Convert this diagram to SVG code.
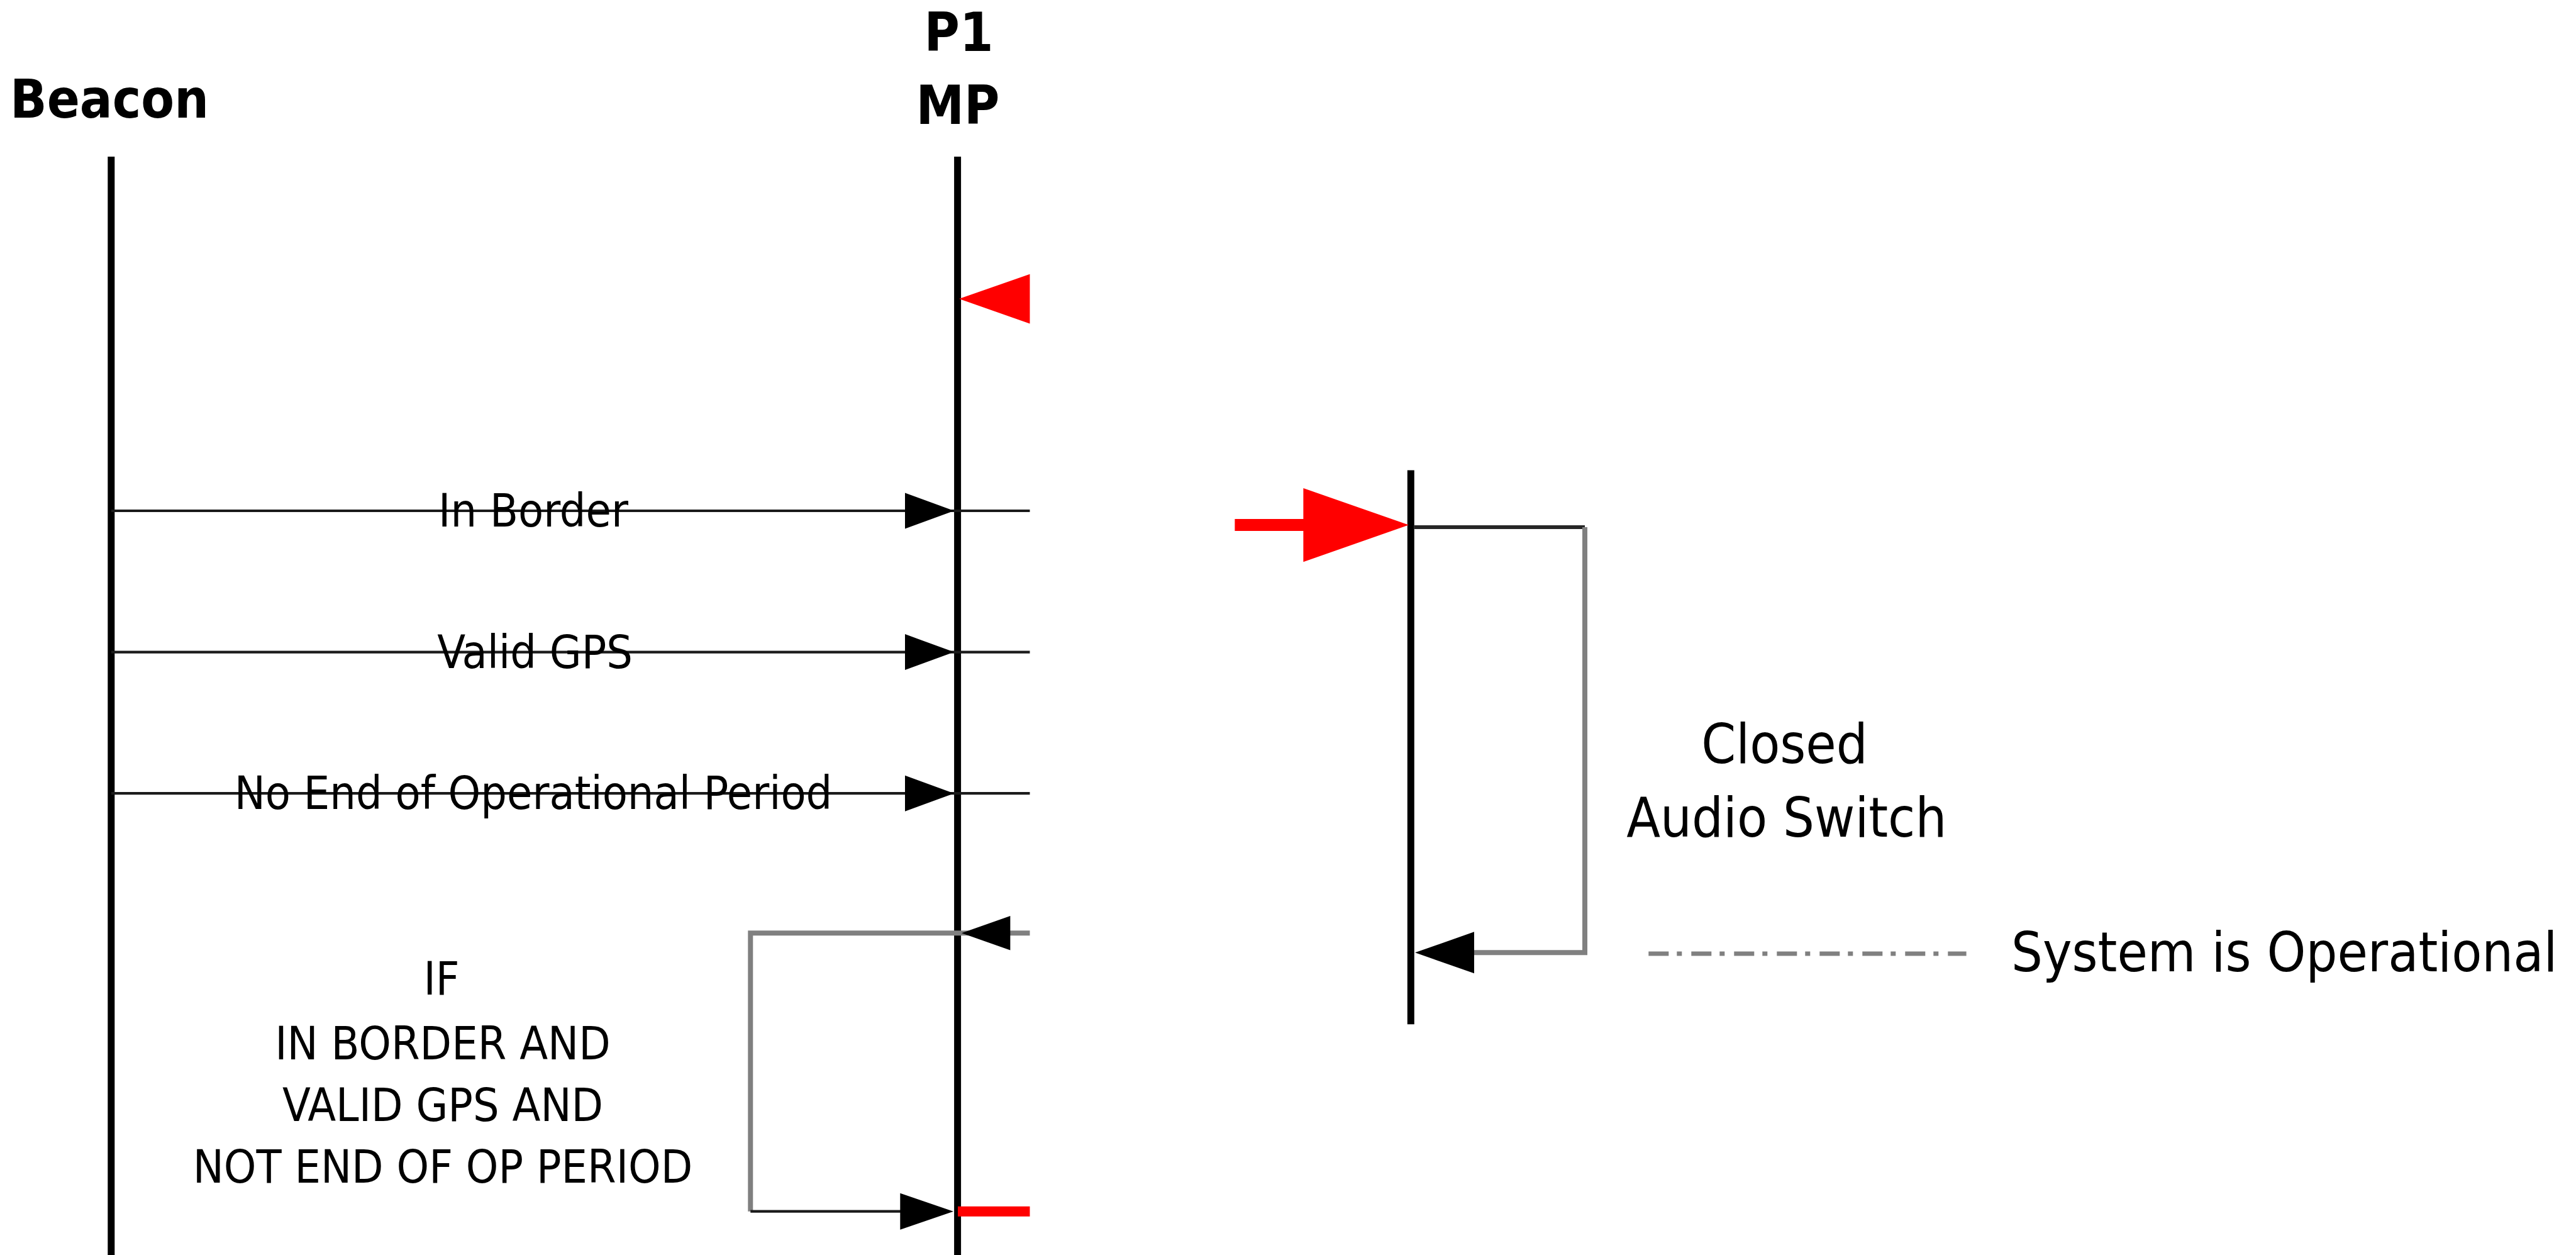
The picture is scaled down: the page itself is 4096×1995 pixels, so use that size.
<svg xmlns="http://www.w3.org/2000/svg" width="4096" height="1995" viewBox="0 0 4096 1995">
<style>
.t{font-family:'DejaVu Sans Condensed','DejaVu Sans',sans-serif;font-stretch:condensed;fill:#000}
.h{font-size:85.5px;font-weight:bold;text-anchor:middle}
.m{font-size:73px;text-anchor:middle}
.c{font-size:73px;text-anchor:middle}
.b{font-size:87.5px}
.life{stroke:#000;stroke-width:11;fill:none}
.msg{stroke:#1a1a1a;stroke-width:4.2;fill:none}
.grey{stroke:#808080;stroke-width:8;fill:none}
.dark{stroke:#262626;stroke-width:6;fill:none}
.ah{fill:#000}
.red{fill:#ff0000}
</style>
<rect width="4096" height="1995" fill="#fff"/>
<g id="beacon">
<text class="t h" x="174" y="187">Beacon</text>
<line class="life" x1="176.8" y1="249" x2="176.8" y2="1995"/>
</g>
<g id="mp">
<text class="t h" x="1524.5" y="80.5">P1</text>
<text class="t h" x="1523" y="197">MP</text>
<line class="life" x1="1522.6" y1="249" x2="1522.6" y2="1995"/>
</g>
<g id="audio-switch">
<line class="life" x1="2243.3" y1="747.5" x2="2243.3" y2="1628.2"/>
<text class="t b" x="2837.5" y="1212.6" text-anchor="middle">Closed</text>
<text class="t b" x="2840.8" y="1329.9" text-anchor="middle">Audio Switch</text>
</g>
<g id="legend">
<line x1="2621.3" y1="1516" x2="3126.6" y2="1516" stroke="#808080" stroke-width="7" stroke-dasharray="32 13 8 15"/>
<text class="t b" x="3198" y="1544.4">System is Operational</text>
</g>
<g id="condition">
<text class="t c" x="702" y="1581.3">IF</text>
<text class="t c" x="704" y="1684.4">IN BORDER AND</text>
<text class="t c" x="704" y="1782.4">VALID GPS AND</text>
<text class="t c" x="704" y="1879.6">NOT END OF OP PERIOD</text>
</g>
<g id="connectors">
<polygon class="red" points="1525,475.1 1637.5,435.7 1637.5,514.5"/>
<line class="msg" x1="176.8" y1="812" x2="1637.5" y2="812"/>
<polygon class="ah" points="1517,812 1439,783.5 1439,840.5"/>
<line class="msg" x1="176.8" y1="1036.6" x2="1637.5" y2="1036.6"/>
<polygon class="ah" points="1517,1036.6 1439,1008.1 1439,1065.1"/>
<line class="msg" x1="176.8" y1="1261.2" x2="1637.5" y2="1261.2"/>
<polygon class="ah" points="1517,1261.2 1439,1232.7 1439,1289.7"/>
<text class="t m" x="848" y="837">In Border</text>
<text class="t m" x="850.6" y="1061.7">Valid GPS</text>
<text class="t m" x="848" y="1285.5">No End of Operational Period</text>
<line x1="1963.4" y1="834.6" x2="2080" y2="834.6" stroke="#ff0000" stroke-width="19"/>
<polygon class="red" points="2240,834.6 2072.4,775.9 2072.4,893.3"/>
<line class="dark" x1="2249" y1="838" x2="2520" y2="838"/>
<polyline class="grey" points="2520,838 2520,1514.3 2340,1514.3"/>
<polygon class="ah" points="2250,1514.3 2344,1481.3 2344,1547.3"/>
<polyline class="grey" points="1637.5,1483.3 1193.3,1483.3 1193.3,1925.7"/>
<polygon class="ah" points="1529,1483.3 1606.4,1456.1 1606.4,1510.5"/>
<line class="msg" x1="1193.3" y1="1925.7" x2="1440" y2="1925.7"/>
<polygon class="ah" points="1516,1925.7 1431.3,1896.7 1431.3,1954.7"/>
<line x1="1523" y1="1925.7" x2="1637.5" y2="1925.7" stroke="#ff0000" stroke-width="16"/>
</g>
</svg>
